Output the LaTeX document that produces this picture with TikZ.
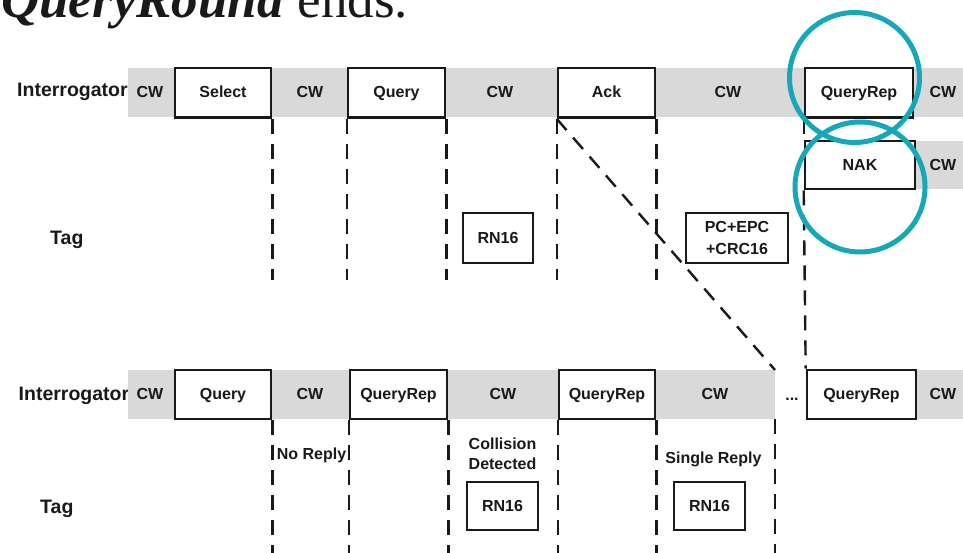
\documentclass[tikz,border=0pt]{standalone}
\usepackage{fontspec}
\setmainfont{Liberation Serif}
\newfontfamily\diagfont{Liberation Sans}

\definecolor{bandgray}{RGB}{217,217,217}
\definecolor{ringteal}{RGB}{22,168,184}
\definecolor{inkblack}{RGB}{25,25,25}

\begin{document}
\begin{tikzpicture}[x=1pt,y=-1pt,
  every node/.style={text=inkblack},
  msgfont/.style={font=\diagfont\bfseries\fontsize{16}{20}\selectfont},
  rowlabel/.style={font=\diagfont\bfseries\fontsize{19.5}{24}\selectfont, anchor=base west, inner sep=0pt},
  msgbox/.style={msgfont, draw=inkblack, line width=2.6pt, fill=white, inner sep=0pt,
    text height=14pt, text depth=3.5pt},
  cwtext/.style={msgfont, inner sep=0pt, text height=14pt, text depth=3.5pt},
  note/.style={msgfont, inner sep=0pt, anchor=base},
  dashline/.style={draw=inkblack, line width=2.4pt, dash pattern=on 15pt off 10pt},
  ring/.style={draw=ringteal, line width=5pt},
  band/.style={fill=bandgray, draw=none}
]
\useasboundingbox (0,0) rectangle (963,553);
\clip (0,0) rectangle (963,553);

% heading, cut by the top edge
\node[anchor=base west, inner sep=0pt, font=\fontsize{53}{60}\selectfont]
  (title) at (1,18) {\textbf{\textit{QueryRound}} ends.};

% row labels (drawn before the bands so the bands overlap them)
\node[rowlabel] (intA) at (17,97) {Interrogator};
\node[rowlabel] (tagA) at (50,244) {Tag};
\node[rowlabel] (intB) at (18.5,400) {Interrogator};
\node[rowlabel] (tagB) at (40,513) {Tag};

% continuous-wave bands
\fill[band] (128,68) rectangle (963,117.5);
\fill[band] (915,141) rectangle (963,189);
\fill[band] (128,370) rectangle (775,419);
\fill[band] (916,370) rectangle (963,419);

% helper coordinates for the free ends of the dashed lines
\coordinate (topEnd) at (0,280);
\coordinate (botEnd) at (0,560);
\coordinate (gapTop) at (775,370);
\coordinate (gapBot) at (775,419);

% ---------- first round ----------
\node[cwtext] (cwA1) at (150,92.75) {CW};
\node[msgbox, minimum width=96pt, minimum height=49.5pt] (sel) at (223,92.75) {Select};
\node[cwtext] (cwA2) at (310,92.75) {CW};
\node[msgbox, minimum width=97pt, minimum height=49.5pt] (qry) at (396.5,92.75) {Query};
\node[cwtext] (cwA3) at (500,92.75) {CW};
\node[msgbox, minimum width=97pt, minimum height=49.5pt] (ack) at (606.5,92.75) {Ack};
\node[cwtext] (cwA4) at (728,92.75) {CW};
\node[msgbox, minimum width=108pt, minimum height=49.5pt] (qrepA) at (859,92.75) {QueryRep};
\node[cwtext] (cwA5) at (943,92.75) {CW};

\node[msgbox, minimum width=110pt, minimum height=48pt] (nak) at (860,165) {NAK};
\node[cwtext] (cwN) at (943,165) {CW};

\node[msgbox, minimum width=70pt, minimum height=50pt] (rnA) at (498,238) {RN16};
\node[msgfont, draw=inkblack, line width=2.6pt, fill=white, inner sep=0pt,
  minimum width=102pt, minimum height=50pt, align=center,
  font=\diagfont\bfseries\fontsize{16}{22}\selectfont] (epc) at (737,238) {PC+EPC\\+CRC16};

\draw[dashline] (sel.south east) -- (sel.south east |- topEnd);
\draw[dashline] (qry.south west) -- (qry.south west |- topEnd);
\draw[dashline] (qry.south east) -- (qry.south east |- topEnd);
\draw[dashline] (ack.south west) -- (ack.south west |- topEnd);
\draw[dashline] (ack.south east) -- (ack.south east |- topEnd);
\draw[dashline] (ack.south west) -- (gapTop);

% ---------- second round ----------
\node[cwtext] (cwB1) at (150,394.5) {CW};
\node[msgbox, minimum width=96pt, minimum height=49pt] (qryB) at (223,394.5) {Query};
\node[cwtext] (cwB2) at (310,394.5) {CW};
\node[msgbox, minimum width=97pt, minimum height=49pt] (qrepB1) at (398.5,394.5) {QueryRep};
\node[cwtext] (cwB3) at (503,394.5) {CW};
\node[msgbox, minimum width=96pt, minimum height=49pt] (qrepB2) at (607,394.5) {QueryRep};
\node[cwtext] (cwB4) at (715,394.5) {CW};
\node[note] (dots) at (792,400) {...};
\node[msgbox, minimum width=109pt, minimum height=49pt] (qrepB3) at (861.5,394.5) {QueryRep};
\node[cwtext] (cwB5) at (943,394.5) {CW};

\node[note] (noreply) at (311.5,459) {No Reply};
\node[msgfont, inner sep=0pt, align=center,
  font=\diagfont\bfseries\fontsize{16}{20}\selectfont] (coll) at (502.5,454) {Collision\\Detected};
\node[msgbox, minimum width=71pt, minimum height=48pt] (rnB1) at (502.5,506) {RN16};
\node[note] (single) at (713.5,463) {Single Reply};
\node[msgbox, minimum width=71pt, minimum height=48pt] (rnB2) at (709.5,506) {RN16};

\draw[dashline] (qryB.south east) -- (qryB.south east |- botEnd);
\draw[dashline] (qrepB1.south west) -- (qrepB1.south west |- botEnd);
\draw[dashline] (qrepB1.south east) -- (qrepB1.south east |- botEnd);
\draw[dashline] (qrepB2.south west) -- (qrepB2.south west |- botEnd);
\draw[dashline] (qrepB2.south east) -- (qrepB2.south east |- botEnd);
\draw[dashline] (gapBot) -- (gapBot |- botEnd);

% link down the right-hand column
\draw[dashline] (qrepA.south west) -- (nak.north west);
\draw[dashline] (nak.south west) -- (qrepB3.north west);

% highlight rings
\draw[ring] (854.5,77.5) circle (65);
\draw[ring] (860,187) circle (65);
\end{tikzpicture}
\end{document}
